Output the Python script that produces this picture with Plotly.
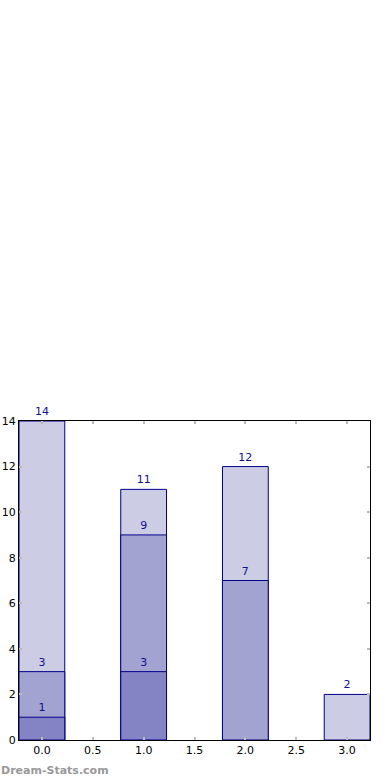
import plotly.graph_objects as go

categories = [0, 1, 2, 3]
light_vals = [14, 11, 12, 2]
mid_vals = [3, 9, 7, None]
dark_vals = [1, 3, None, None]

tick_x = [0, 0.5, 1, 1.5, 2, 2.5, 3]
tick_y = [0, 2, 4, 6, 8, 10, 12, 14]

edge = "#00008b"
txt_color = "#10108c"

def lbl(vals):
    return ["" if v is None else str(v) for v in vals]

fig = go.Figure()
for vals, col in [(light_vals, "#ccccE4"), (mid_vals, "#a3a3d1"), (dark_vals, "#8484c4")]:
    fig.add_trace(go.Bar(
        x=categories, y=vals, width=0.45,
        marker=dict(color=col, line=dict(color=edge, width=1)),
        text=lbl(vals), textposition="outside", cliponaxis=False,
        textfont=dict(family="DejaVu Sans", size=11, color=txt_color),
        showlegend=False, hoverinfo="skip",
    ))

fig.update_layout(
    barmode="overlay",
    width=390, height=780,
    margin=dict(l=19, r=20, t=421, b=40),
    plot_bgcolor="white", paper_bgcolor="white",
    font=dict(family="DejaVu Sans", size=11, color="black"),
)
fig.update_xaxes(
    range=[-0.225, 3.225], tickvals=tick_x, tickformat=".1f",
    showline=True, linecolor="black", linewidth=1, mirror="ticks",
    ticks="inside", ticklen=3, tickcolor="#bbbbbb", tickwidth=2,
    showgrid=False, zeroline=False, automargin=False,
)
fig.update_yaxes(
    range=[0, 14], tickvals=tick_y,
    showline=True, linecolor="black", linewidth=1, mirror="ticks",
    ticks="inside", ticklen=3, tickcolor="#bbbbbb", tickwidth=2,
    showgrid=False, zeroline=False, automargin=False,
)
fig.add_annotation(
    text="<b>Dream-Stats.com</b>", xref="paper", yref="paper",
    x=-20/351, y=-30/319, xanchor="left", yanchor="middle",
    showarrow=False, font=dict(family="DejaVu Sans", size=11, color="#999999"),
)
fig.write_html("out.html", config={"displayModeBar": False},
               post_script="document.body.style.margin='0';document.body.style.overflow='hidden';")
